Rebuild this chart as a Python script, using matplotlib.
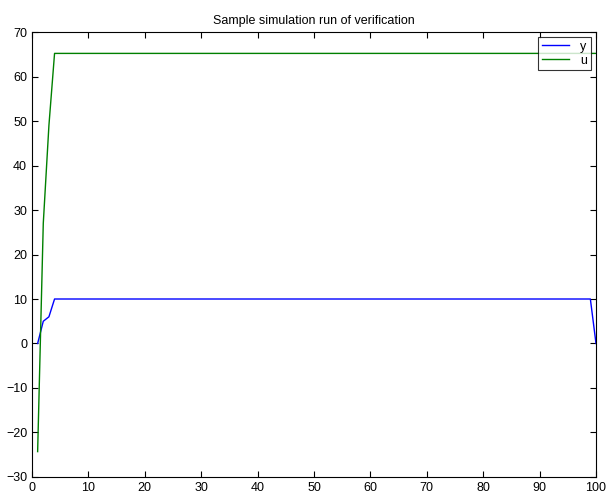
import matplotlib
matplotlib.use("Agg")
import matplotlib.pyplot as plt
import numpy as np

# sample index 1..100
steps = np.arange(1, 101)
y_out = [0, 5, 6] + [10] * 96 + [0]
u_ctrl = [-24.3, 27, 49] + [65.2] * 97

plt.rcParams["font.family"] = ["Liberation Sans", "DejaVu Sans"]

fig = plt.figure(figsize=(6.06, 4.93), dpi=100)
ax = fig.add_axes([0.0528, 0.0325, 0.9307, 0.9025])

ax.plot(steps, y_out, color="#0000ff", lw=1.0, label="y")
ax.plot(steps, u_ctrl, color="#008000", lw=1.0, label="u")

ax.set_xlim(0, 100)
ax.set_ylim(-30, 70)
ax.set_xticks(np.arange(0, 101, 10))
ax.set_yticks(np.arange(-30, 71, 10))
ax.tick_params(direction="in", top=True, right=True, length=4, labelsize=9)
for s in ax.spines.values():
    s.set_linewidth(0.8)

ax.set_title("Sample simulation run of verification", fontsize=9, pad=6)

leg = ax.legend(loc="upper right", fontsize=9, frameon=True, fancybox=False,
                handlelength=2.2, borderaxespad=0.4, borderpad=0.3,
                labelspacing=0.15, handletextpad=0.9)
leg.get_frame().set_edgecolor("black")
leg.get_frame().set_linewidth(0.8)

fig.savefig("out.png", dpi=100)
